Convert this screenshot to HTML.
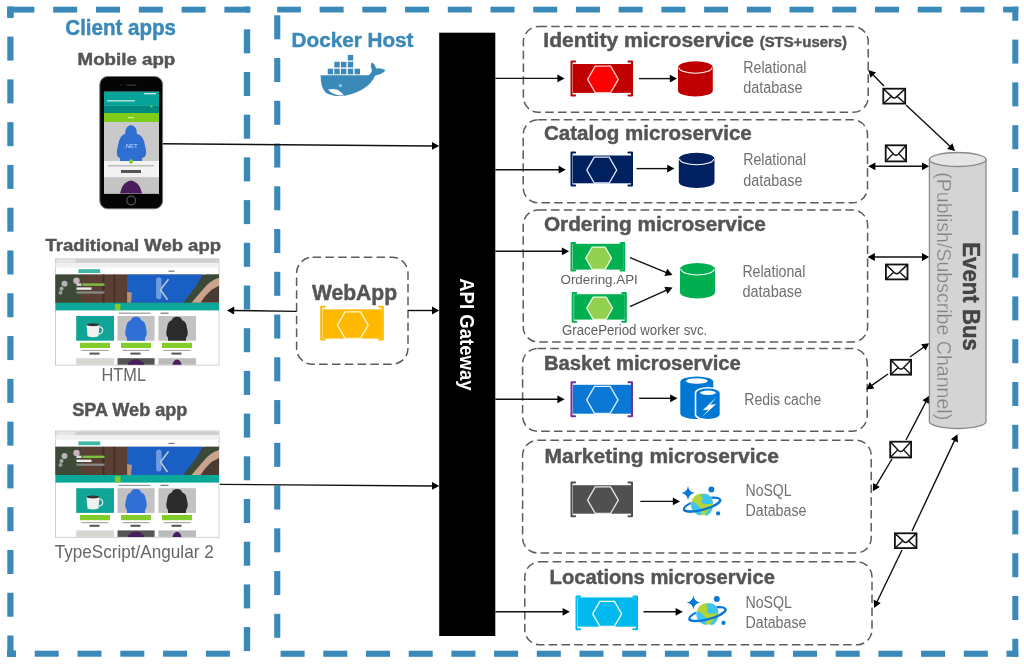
<!DOCTYPE html>
<html><head><meta charset="utf-8"><style>
html,body{margin:0;padding:0;background:#fff;}
svg{display:block;will-change:transform;font-family:"Liberation Sans",sans-serif;}
</style></head><body>
<svg width="1024" height="668" viewBox="0 0 1024 668">
<rect width="1024" height="668" fill="#fff"/>
<rect x="10.40" y="6.7" width="24.00" height="5.8999999999999995" fill="#3a89b9"/>
<rect x="53.20" y="6.7" width="24.00" height="5.8999999999999995" fill="#3a89b9"/>
<rect x="96.00" y="6.7" width="24.00" height="5.8999999999999995" fill="#3a89b9"/>
<rect x="138.80" y="6.7" width="24.00" height="5.8999999999999995" fill="#3a89b9"/>
<rect x="181.60" y="6.7" width="24.00" height="5.8999999999999995" fill="#3a89b9"/>
<rect x="224.40" y="6.7" width="24.00" height="5.8999999999999995" fill="#3a89b9"/>
<rect x="7.3" y="6.7" width="4" height="6" fill="#3a89b9"/>
<rect x="246" y="6.7" width="4.3" height="6" fill="#3a89b9"/>
<rect x="7.3" y="6.70" width="6.2" height="11.12" fill="#3a89b9"/>
<rect x="7.3" y="36.60" width="6.2" height="24.00" fill="#3a89b9"/>
<rect x="7.3" y="79.38" width="6.2" height="24.00" fill="#3a89b9"/>
<rect x="7.3" y="122.16" width="6.2" height="24.00" fill="#3a89b9"/>
<rect x="7.3" y="164.94" width="6.2" height="24.00" fill="#3a89b9"/>
<rect x="7.3" y="207.72" width="6.2" height="24.00" fill="#3a89b9"/>
<rect x="7.3" y="250.50" width="6.2" height="24.00" fill="#3a89b9"/>
<rect x="7.3" y="293.28" width="6.2" height="24.00" fill="#3a89b9"/>
<rect x="7.3" y="336.06" width="6.2" height="24.00" fill="#3a89b9"/>
<rect x="7.3" y="378.84" width="6.2" height="24.00" fill="#3a89b9"/>
<rect x="7.3" y="421.62" width="6.2" height="24.00" fill="#3a89b9"/>
<rect x="7.3" y="464.40" width="6.2" height="24.00" fill="#3a89b9"/>
<rect x="7.3" y="507.18" width="6.2" height="24.00" fill="#3a89b9"/>
<rect x="7.3" y="549.96" width="6.2" height="24.00" fill="#3a89b9"/>
<rect x="7.3" y="592.74" width="6.2" height="24.00" fill="#3a89b9"/>
<rect x="7.3" y="635.52" width="6.2" height="21.18" fill="#3a89b9"/>
<rect x="7.3" y="6.7" width="6.2" height="11" fill="#3a89b9"/>
<rect x="7.3" y="650" width="6.2" height="6.7" fill="#3a89b9"/>
<rect x="243.8" y="6.70" width="6.399999999999977" height="3.90" fill="#3a89b9"/>
<rect x="243.8" y="29.30" width="6.399999999999977" height="24.00" fill="#3a89b9"/>
<rect x="243.8" y="72.00" width="6.399999999999977" height="24.00" fill="#3a89b9"/>
<rect x="243.8" y="114.70" width="6.399999999999977" height="24.00" fill="#3a89b9"/>
<rect x="243.8" y="157.40" width="6.399999999999977" height="24.00" fill="#3a89b9"/>
<rect x="243.8" y="200.10" width="6.399999999999977" height="24.00" fill="#3a89b9"/>
<rect x="243.8" y="242.80" width="6.399999999999977" height="24.00" fill="#3a89b9"/>
<rect x="243.8" y="285.50" width="6.399999999999977" height="24.00" fill="#3a89b9"/>
<rect x="243.8" y="328.20" width="6.399999999999977" height="24.00" fill="#3a89b9"/>
<rect x="243.8" y="370.90" width="6.399999999999977" height="24.00" fill="#3a89b9"/>
<rect x="243.8" y="413.60" width="6.399999999999977" height="24.00" fill="#3a89b9"/>
<rect x="243.8" y="456.30" width="6.399999999999977" height="24.00" fill="#3a89b9"/>
<rect x="243.8" y="499.00" width="6.399999999999977" height="24.00" fill="#3a89b9"/>
<rect x="243.8" y="541.70" width="6.399999999999977" height="24.00" fill="#3a89b9"/>
<rect x="243.8" y="584.40" width="6.399999999999977" height="24.00" fill="#3a89b9"/>
<rect x="243.8" y="627.10" width="6.399999999999977" height="24.00" fill="#3a89b9"/>
<rect x="7.30" y="650.7" width="8.60" height="6.0" fill="#3a89b9"/>
<rect x="34.70" y="650.7" width="24.00" height="6.0" fill="#3a89b9"/>
<rect x="77.50" y="650.7" width="24.00" height="6.0" fill="#3a89b9"/>
<rect x="120.30" y="650.7" width="24.00" height="6.0" fill="#3a89b9"/>
<rect x="163.10" y="650.7" width="24.00" height="6.0" fill="#3a89b9"/>
<rect x="205.90" y="650.7" width="24.00" height="6.0" fill="#3a89b9"/>
<rect x="7.3" y="650.7" width="8.7" height="6" fill="#3a89b9"/>
<rect x="277.20" y="6.7" width="23.70" height="5.8" fill="#3a89b9"/>
<rect x="319.62" y="6.7" width="24.00" height="5.8" fill="#3a89b9"/>
<rect x="362.34" y="6.7" width="24.00" height="5.8" fill="#3a89b9"/>
<rect x="405.06" y="6.7" width="24.00" height="5.8" fill="#3a89b9"/>
<rect x="447.78" y="6.7" width="24.00" height="5.8" fill="#3a89b9"/>
<rect x="490.50" y="6.7" width="24.00" height="5.8" fill="#3a89b9"/>
<rect x="533.22" y="6.7" width="24.00" height="5.8" fill="#3a89b9"/>
<rect x="575.94" y="6.7" width="24.00" height="5.8" fill="#3a89b9"/>
<rect x="618.66" y="6.7" width="24.00" height="5.8" fill="#3a89b9"/>
<rect x="661.38" y="6.7" width="24.00" height="5.8" fill="#3a89b9"/>
<rect x="704.10" y="6.7" width="24.00" height="5.8" fill="#3a89b9"/>
<rect x="746.82" y="6.7" width="24.00" height="5.8" fill="#3a89b9"/>
<rect x="789.54" y="6.7" width="24.00" height="5.8" fill="#3a89b9"/>
<rect x="832.26" y="6.7" width="24.00" height="5.8" fill="#3a89b9"/>
<rect x="874.98" y="6.7" width="24.00" height="5.8" fill="#3a89b9"/>
<rect x="917.70" y="6.7" width="24.00" height="5.8" fill="#3a89b9"/>
<rect x="960.42" y="6.7" width="24.00" height="5.8" fill="#3a89b9"/>
<rect x="1003.14" y="6.7" width="15.16" height="5.8" fill="#3a89b9"/>
<rect x="274.2" y="15.30" width="6.100000000000023" height="24.00" fill="#3a89b9"/>
<rect x="274.2" y="58.05" width="6.100000000000023" height="24.00" fill="#3a89b9"/>
<rect x="274.2" y="100.80" width="6.100000000000023" height="24.00" fill="#3a89b9"/>
<rect x="274.2" y="143.55" width="6.100000000000023" height="24.00" fill="#3a89b9"/>
<rect x="274.2" y="186.30" width="6.100000000000023" height="24.00" fill="#3a89b9"/>
<rect x="274.2" y="229.05" width="6.100000000000023" height="24.00" fill="#3a89b9"/>
<rect x="274.2" y="271.80" width="6.100000000000023" height="24.00" fill="#3a89b9"/>
<rect x="274.2" y="314.55" width="6.100000000000023" height="24.00" fill="#3a89b9"/>
<rect x="274.2" y="357.30" width="6.100000000000023" height="24.00" fill="#3a89b9"/>
<rect x="274.2" y="400.05" width="6.100000000000023" height="24.00" fill="#3a89b9"/>
<rect x="274.2" y="442.80" width="6.100000000000023" height="24.00" fill="#3a89b9"/>
<rect x="274.2" y="485.55" width="6.100000000000023" height="24.00" fill="#3a89b9"/>
<rect x="274.2" y="528.30" width="6.100000000000023" height="24.00" fill="#3a89b9"/>
<rect x="274.2" y="571.05" width="6.100000000000023" height="24.00" fill="#3a89b9"/>
<rect x="274.2" y="613.80" width="6.100000000000023" height="24.00" fill="#3a89b9"/>
<rect x="1012.3" y="6.70" width="6.0" height="14.10" fill="#3a89b9"/>
<rect x="1012.3" y="39.60" width="6.0" height="24.00" fill="#3a89b9"/>
<rect x="1012.3" y="82.40" width="6.0" height="24.00" fill="#3a89b9"/>
<rect x="1012.3" y="125.20" width="6.0" height="24.00" fill="#3a89b9"/>
<rect x="1012.3" y="168.00" width="6.0" height="24.00" fill="#3a89b9"/>
<rect x="1012.3" y="210.80" width="6.0" height="24.00" fill="#3a89b9"/>
<rect x="1012.3" y="253.60" width="6.0" height="24.00" fill="#3a89b9"/>
<rect x="1012.3" y="296.40" width="6.0" height="24.00" fill="#3a89b9"/>
<rect x="1012.3" y="339.20" width="6.0" height="24.00" fill="#3a89b9"/>
<rect x="1012.3" y="382.00" width="6.0" height="24.00" fill="#3a89b9"/>
<rect x="1012.3" y="424.80" width="6.0" height="24.00" fill="#3a89b9"/>
<rect x="1012.3" y="467.60" width="6.0" height="24.00" fill="#3a89b9"/>
<rect x="1012.3" y="510.40" width="6.0" height="24.00" fill="#3a89b9"/>
<rect x="1012.3" y="553.20" width="6.0" height="24.00" fill="#3a89b9"/>
<rect x="1012.3" y="596.00" width="6.0" height="24.00" fill="#3a89b9"/>
<rect x="1012.3" y="638.80" width="6.0" height="18.00" fill="#3a89b9"/>
<rect x="280.60" y="650.7" width="24.00" height="6.099999999999909" fill="#3a89b9"/>
<rect x="323.30" y="650.7" width="24.00" height="6.099999999999909" fill="#3a89b9"/>
<rect x="366.00" y="650.7" width="24.00" height="6.099999999999909" fill="#3a89b9"/>
<rect x="408.70" y="650.7" width="24.00" height="6.099999999999909" fill="#3a89b9"/>
<rect x="451.40" y="650.7" width="24.00" height="6.099999999999909" fill="#3a89b9"/>
<rect x="494.10" y="650.7" width="24.00" height="6.099999999999909" fill="#3a89b9"/>
<rect x="536.80" y="650.7" width="24.00" height="6.099999999999909" fill="#3a89b9"/>
<rect x="579.50" y="650.7" width="24.00" height="6.099999999999909" fill="#3a89b9"/>
<rect x="622.20" y="650.7" width="24.00" height="6.099999999999909" fill="#3a89b9"/>
<rect x="664.90" y="650.7" width="24.00" height="6.099999999999909" fill="#3a89b9"/>
<rect x="707.60" y="650.7" width="24.00" height="6.099999999999909" fill="#3a89b9"/>
<rect x="750.30" y="650.7" width="24.00" height="6.099999999999909" fill="#3a89b9"/>
<rect x="793.00" y="650.7" width="24.00" height="6.099999999999909" fill="#3a89b9"/>
<rect x="835.70" y="650.7" width="24.00" height="6.099999999999909" fill="#3a89b9"/>
<rect x="878.40" y="650.7" width="24.00" height="6.099999999999909" fill="#3a89b9"/>
<rect x="921.10" y="650.7" width="24.00" height="6.099999999999909" fill="#3a89b9"/>
<rect x="963.80" y="650.7" width="24.00" height="6.099999999999909" fill="#3a89b9"/>
<rect x="1006.50" y="650.7" width="11.80" height="6.099999999999909" fill="#3a89b9"/>
<rect x="523.4" y="26.6" width="344.80000000000007" height="85.69999999999999" rx="15" ry="15" fill="none" stroke="#5c5c5c" stroke-width="1.5" stroke-dasharray="8.5 4.3"/>
<rect x="523.2" y="119.7" width="344.29999999999995" height="83.10000000000001" rx="15" ry="15" fill="none" stroke="#5c5c5c" stroke-width="1.5" stroke-dasharray="8.5 4.3"/>
<rect x="523.2" y="210.0" width="344.4" height="132.0" rx="15" ry="15" fill="none" stroke="#5c5c5c" stroke-width="1.5" stroke-dasharray="8.5 4.3"/>
<rect x="522.6" y="348.4" width="344.6" height="82.90000000000003" rx="15" ry="15" fill="none" stroke="#5c5c5c" stroke-width="1.5" stroke-dasharray="8.5 4.3"/>
<rect x="522.6" y="440.3" width="348.6" height="112.69999999999999" rx="15" ry="15" fill="none" stroke="#5c5c5c" stroke-width="1.5" stroke-dasharray="8.5 4.3"/>
<rect x="524.8" y="561.8" width="347.20000000000005" height="83.0" rx="15" ry="15" fill="none" stroke="#5c5c5c" stroke-width="1.5" stroke-dasharray="8.5 4.3"/>
<rect x="296.6" y="257.2" width="111.39999999999998" height="107.10000000000002" rx="16" ry="16" fill="none" stroke="#5c5c5c" stroke-width="1.5" stroke-dasharray="8.5 4.3"/>
<rect x="439.2" y="32.7" width="56.1" height="603.3" fill="#000"/>
<line x1="162.60" y1="143.80" x2="432.72" y2="145.95" stroke="#111" stroke-width="1.4"/>
<polygon points="439.20,146.00 431.97,149.84 432.03,142.04" fill="#000"/>
<line x1="296.60" y1="311.40" x2="233.48" y2="310.49" stroke="#111" stroke-width="1.4"/>
<polygon points="227.00,310.40 234.26,306.60 234.14,314.40" fill="#000"/>
<line x1="408.00" y1="310.50" x2="432.72" y2="310.50" stroke="#111" stroke-width="1.4"/>
<polygon points="439.20,310.50 432.00,314.40 432.00,306.60" fill="#000"/>
<line x1="219.80" y1="484.40" x2="432.72" y2="485.95" stroke="#111" stroke-width="1.4"/>
<polygon points="439.20,486.00 431.97,489.85 432.03,482.05" fill="#000"/>
<line x1="495.30" y1="78.40" x2="558.12" y2="78.40" stroke="#111" stroke-width="1.4"/>
<polygon points="564.60,78.40 557.40,82.30 557.40,74.50" fill="#000"/>
<line x1="495.30" y1="169.70" x2="559.32" y2="169.70" stroke="#111" stroke-width="1.4"/>
<polygon points="565.80,169.70 558.60,173.60 558.60,165.80" fill="#000"/>
<line x1="495.30" y1="251.30" x2="562.62" y2="251.30" stroke="#111" stroke-width="1.4"/>
<polygon points="569.10,251.30 561.90,255.20 561.90,247.40" fill="#000"/>
<line x1="495.30" y1="399.30" x2="558.12" y2="399.30" stroke="#111" stroke-width="1.4"/>
<polygon points="564.60,399.30 557.40,403.20 557.40,395.40" fill="#000"/>
<line x1="495.30" y1="611.80" x2="563.32" y2="611.80" stroke="#111" stroke-width="1.4"/>
<polygon points="569.80,611.80 562.60,615.70 562.60,607.90" fill="#000"/>
<line x1="639.00" y1="78.60" x2="670.52" y2="78.60" stroke="#111" stroke-width="1.4"/>
<polygon points="677.00,78.60 669.80,82.50 669.80,74.70" fill="#000"/>
<line x1="636.50" y1="168.60" x2="667.92" y2="168.60" stroke="#111" stroke-width="1.4"/>
<polygon points="674.40,168.60 667.20,172.50 667.20,164.70" fill="#000"/>
<line x1="630.00" y1="257.70" x2="666.50" y2="272.64" stroke="#111" stroke-width="1.4"/>
<polygon points="672.50,275.10 664.36,275.98 667.31,268.76" fill="#000"/>
<line x1="629.90" y1="306.70" x2="666.60" y2="290.07" stroke="#111" stroke-width="1.4"/>
<polygon points="672.50,287.40 667.55,293.92 664.33,286.82" fill="#000"/>
<line x1="639.10" y1="398.30" x2="670.92" y2="398.30" stroke="#111" stroke-width="1.4"/>
<polygon points="677.40,398.30 670.20,402.20 670.20,394.40" fill="#000"/>
<line x1="640.30" y1="501.40" x2="673.52" y2="501.40" stroke="#111" stroke-width="1.4"/>
<polygon points="680.00,501.40 672.80,505.30 672.80,497.50" fill="#000"/>
<line x1="643.50" y1="611.80" x2="676.32" y2="611.80" stroke="#111" stroke-width="1.4"/>
<polygon points="682.80,611.80 675.60,615.70 675.60,607.90" fill="#000"/>
<line x1="884.00" y1="86.00" x2="872.75" y2="74.61" stroke="#111" stroke-width="1.4"/>
<polygon points="868.20,70.00 876.03,72.38 870.48,77.86" fill="#000"/>
<line x1="906.00" y1="105.00" x2="950.28" y2="146.56" stroke="#111" stroke-width="1.4"/>
<polygon points="955.00,151.00 947.08,148.92 952.42,143.23" fill="#000"/>
<line x1="874.68" y1="166.30" x2="922.72" y2="166.30" stroke="#111" stroke-width="1.4"/>
<polygon points="929.20,166.30 922.00,170.20 922.00,162.40" fill="#000"/>
<polygon points="868.20,166.30 875.40,170.20 875.40,162.40" fill="#000"/>
<line x1="874.08" y1="257.00" x2="922.72" y2="257.00" stroke="#111" stroke-width="1.4"/>
<polygon points="929.20,257.00 922.00,260.90 922.00,253.10" fill="#000"/>
<polygon points="867.60,257.00 874.80,260.90 874.80,253.10" fill="#000"/>
<line x1="910.00" y1="357.00" x2="923.94" y2="346.98" stroke="#111" stroke-width="1.4"/>
<polygon points="929.20,343.20 925.63,350.57 921.08,344.24" fill="#000"/>
<line x1="888.00" y1="374.00" x2="871.49" y2="385.66" stroke="#111" stroke-width="1.4"/>
<polygon points="866.20,389.40 869.83,382.06 874.33,388.43" fill="#000"/>
<line x1="906.00" y1="440.00" x2="926.19" y2="401.44" stroke="#111" stroke-width="1.4"/>
<polygon points="929.20,395.70 929.31,403.89 922.40,400.27" fill="#000"/>
<line x1="892.00" y1="459.00" x2="876.12" y2="485.63" stroke="#111" stroke-width="1.4"/>
<polygon points="872.80,491.20 873.14,483.02 879.84,487.01" fill="#000"/>
<line x1="912.00" y1="531.00" x2="954.74" y2="440.16" stroke="#111" stroke-width="1.4"/>
<polygon points="957.50,434.30 957.96,442.48 950.91,439.15" fill="#000"/>
<line x1="902.00" y1="550.00" x2="876.91" y2="602.06" stroke="#111" stroke-width="1.4"/>
<polygon points="874.10,607.90 873.71,599.72 880.74,603.11" fill="#000"/>
<rect x="883.30" y="88.70" width="21.90" height="14.90" fill="#fff" stroke="#111" stroke-width="1.8"/>
<path d="M883.90,89.30 L892.25,97.12 Q894.25,98.92 896.25,97.12 L904.60,89.30" fill="none" stroke="#111" stroke-width="1.5"/>
<line x1="883.90" y1="103.00" x2="890.93" y2="96.65" stroke="#111" stroke-width="1.4"/>
<line x1="904.60" y1="103.00" x2="897.57" y2="96.65" stroke="#111" stroke-width="1.4"/>
<rect x="885.70" y="145.30" width="20.40" height="16.10" fill="#fff" stroke="#111" stroke-width="1.8"/>
<path d="M886.30,145.90 L893.90,154.48 Q895.90,156.28 897.90,154.48 L905.50,145.90" fill="none" stroke="#111" stroke-width="1.5"/>
<line x1="886.30" y1="160.80" x2="892.79" y2="153.89" stroke="#111" stroke-width="1.4"/>
<line x1="905.50" y1="160.80" x2="899.01" y2="153.89" stroke="#111" stroke-width="1.4"/>
<rect x="885.90" y="264.50" width="21.60" height="14.90" fill="#fff" stroke="#111" stroke-width="1.8"/>
<path d="M886.50,265.10 L894.70,272.92 Q896.70,274.72 898.70,272.92 L906.90,265.10" fill="none" stroke="#111" stroke-width="1.5"/>
<line x1="886.50" y1="278.80" x2="893.42" y2="272.45" stroke="#111" stroke-width="1.4"/>
<line x1="906.90" y1="278.80" x2="899.98" y2="272.45" stroke="#111" stroke-width="1.4"/>
<rect x="890.80" y="359.80" width="20.30" height="14.90" fill="#fff" stroke="#111" stroke-width="1.8"/>
<path d="M891.40,360.40 L898.95,368.22 Q900.95,370.02 902.95,368.22 L910.50,360.40" fill="none" stroke="#111" stroke-width="1.5"/>
<line x1="891.40" y1="374.10" x2="897.86" y2="367.75" stroke="#111" stroke-width="1.4"/>
<line x1="910.50" y1="374.10" x2="904.04" y2="367.75" stroke="#111" stroke-width="1.4"/>
<rect x="890.20" y="441.70" width="20.90" height="15.80" fill="#fff" stroke="#111" stroke-width="1.8"/>
<path d="M890.80,442.30 L898.65,450.69 Q900.65,452.49 902.65,450.69 L910.50,442.30" fill="none" stroke="#111" stroke-width="1.5"/>
<line x1="890.80" y1="456.90" x2="897.47" y2="450.13" stroke="#111" stroke-width="1.4"/>
<line x1="910.50" y1="456.90" x2="903.83" y2="450.13" stroke="#111" stroke-width="1.4"/>
<rect x="894.90" y="533.30" width="21.60" height="14.80" fill="#fff" stroke="#111" stroke-width="1.8"/>
<path d="M895.50,533.90 L903.70,541.66 Q905.70,543.46 907.70,541.66 L915.90,533.90" fill="none" stroke="#111" stroke-width="1.5"/>
<line x1="895.50" y1="547.50" x2="902.42" y2="541.20" stroke="#111" stroke-width="1.4"/>
<line x1="915.90" y1="547.50" x2="908.98" y2="541.20" stroke="#111" stroke-width="1.4"/>
<path d="M929.4,159.5 L929.4,421.5 A28.3,7 0 0 0 986,421.5 L986,159.5 Z" fill="#d4d4d4" stroke="#8a8a8a" stroke-width="1.3"/>
<ellipse cx="957.7" cy="159.5" rx="28.3" ry="7" fill="#e6e6e6" stroke="#8a8a8a" stroke-width="1.3"/>
<rect x="572.90" y="64.00" width="58.10" height="28.90" fill="#c00000"/>
<path d="M575.10,61.50 H571.50 V95.40 H575.10" fill="none" stroke="#c00000" stroke-width="2" stroke-linejoin="round" stroke-linecap="round"/>
<path d="M628.40,61.50 H632.00 V95.40 H628.40" fill="none" stroke="#c00000" stroke-width="2" stroke-linejoin="round" stroke-linecap="round"/>
<polygon points="587.58,79.35 595.27,66.10 610.63,66.10 618.32,79.35 610.63,92.60 595.27,92.60" fill="#ff0000" stroke="#ffc8c8" stroke-width="1.3" stroke-linejoin="round"/>
<rect x="572.90" y="155.50" width="58.10" height="27.80" fill="#002060"/>
<path d="M575.10,152.60 H571.50 V185.40 H575.10" fill="none" stroke="#002060" stroke-width="2" stroke-linejoin="round" stroke-linecap="round"/>
<path d="M628.40,152.60 H632.00 V185.40 H628.40" fill="none" stroke="#002060" stroke-width="2" stroke-linejoin="round" stroke-linecap="round"/>
<polygon points="586.79,170.10 594.27,157.20 609.23,157.20 616.71,170.10 609.23,183.00 594.27,183.00" fill="#002060" stroke="#e0e6f8" stroke-width="1.3" stroke-linejoin="round"/>
<rect x="572.90" y="243.80" width="50.30" height="25.80" fill="#00b050"/>
<path d="M575.10,242.90 H571.50 V270.50 H575.10" fill="none" stroke="#00b050" stroke-width="2" stroke-linejoin="round" stroke-linecap="round"/>
<path d="M620.60,242.90 H624.20 V270.50 H620.60" fill="none" stroke="#00b050" stroke-width="2" stroke-linejoin="round" stroke-linecap="round"/>
<polygon points="585.77,258.20 592.21,247.10 605.09,247.10 611.53,258.20 605.09,269.30 592.21,269.30" fill="#92d050" stroke="#e8ffd8" stroke-width="1.3" stroke-linejoin="round"/>
<rect x="574.10" y="294.20" width="50.70" height="25.40" fill="#00b050"/>
<path d="M576.30,292.90 H572.70 V321.70 H576.30" fill="none" stroke="#00b050" stroke-width="2" stroke-linejoin="round" stroke-linecap="round"/>
<path d="M622.20,292.90 H625.80 V321.70 H622.20" fill="none" stroke="#00b050" stroke-width="2" stroke-linejoin="round" stroke-linecap="round"/>
<polygon points="586.77,308.20 593.21,297.10 606.09,297.10 612.53,308.20 606.09,319.30 593.21,319.30" fill="#92d050" stroke="#e8ffd8" stroke-width="1.3" stroke-linejoin="round"/>
<rect x="572.90" y="384.80" width="58.10" height="28.90" fill="#0a78d4"/>
<path d="M575.10,382.30 H571.50 V416.20 H575.10" fill="none" stroke="#7030a0" stroke-width="2" stroke-linejoin="round" stroke-linecap="round"/>
<path d="M628.40,382.30 H632.00 V416.20 H628.40" fill="none" stroke="#7030a0" stroke-width="2" stroke-linejoin="round" stroke-linecap="round"/>
<polygon points="586.69,399.90 594.52,386.40 610.18,386.40 618.01,399.90 610.18,413.40 594.52,413.40" fill="#0a78d4" stroke="#e0f0ff" stroke-width="1.3" stroke-linejoin="round"/>
<rect x="572.90" y="485.20" width="58.10" height="28.50" fill="#505050"/>
<path d="M575.10,482.60 H571.50 V516.20 H575.10" fill="none" stroke="#505050" stroke-width="2" stroke-linejoin="round" stroke-linecap="round"/>
<path d="M628.40,482.60 H632.00 V516.20 H628.40" fill="none" stroke="#505050" stroke-width="2" stroke-linejoin="round" stroke-linecap="round"/>
<polygon points="587.58,500.15 595.27,486.90 610.63,486.90 618.32,500.15 610.63,513.40 595.27,513.40" fill="#505050" stroke="#e8e8e8" stroke-width="1.3" stroke-linejoin="round"/>
<rect x="577.90" y="597.40" width="58.10" height="29.30" fill="#00b9ef"/>
<path d="M580.10,596.40 H576.50 V629.20 H580.10" fill="none" stroke="#00b9ef" stroke-width="2" stroke-linejoin="round" stroke-linecap="round"/>
<path d="M633.40,596.40 H637.00 V629.20 H633.40" fill="none" stroke="#00b9ef" stroke-width="2" stroke-linejoin="round" stroke-linecap="round"/>
<polygon points="592.65,613.90 599.90,601.40 614.40,601.40 621.65,613.90 614.40,626.40 599.90,626.40" fill="#00b9ef" stroke="#f0fbff" stroke-width="1.3" stroke-linejoin="round"/>
<rect x="322.60" y="309.30" width="59.20" height="29.30" fill="#ffb900"/>
<path d="M324.80,306.80 H321.20 V339.60 H324.80" fill="none" stroke="#ffb900" stroke-width="2" stroke-linejoin="round" stroke-linecap="round"/>
<path d="M379.20,306.80 H382.80 V339.60 H379.20" fill="none" stroke="#ffb900" stroke-width="2" stroke-linejoin="round" stroke-linecap="round"/>
<polygon points="337.43,325.05 345.12,311.80 360.49,311.80 368.17,325.05 360.49,338.30 345.12,338.30" fill="#ffb900" stroke="#fff6d0" stroke-width="1.3" stroke-linejoin="round"/>
<path d="M678.0,67.4 L678.0,90.39999999999999 A17.399999999999977,6.2 0 0 0 712.8,90.39999999999999 L712.8,67.4 A17.399999999999977,6.2 0 0 0 678.0,67.4 Z" fill="#c00000"/>
<path d="M678.8,67.4 A16.599999999999977,5.9 0 0 0 712.0,67.4" fill="none" stroke="#fff" stroke-width="1.1"/>
<path d="M678.8,158.89999999999998 L678.8,181.8 A17.850000000000023,6.2 0 0 0 714.5,181.8 L714.5,158.89999999999998 A17.850000000000023,6.2 0 0 0 678.8,158.89999999999998 Z" fill="#002060"/>
<path d="M679.5999999999999,158.89999999999998 A17.050000000000022,5.9 0 0 0 713.7,158.89999999999998" fill="none" stroke="#fff" stroke-width="1.1"/>
<path d="M680.0,269.09999999999997 L680.0,292.3 A17.5,6.2 0 0 0 715.0,292.3 L715.0,269.09999999999997 A17.5,6.2 0 0 0 680.0,269.09999999999997 Z" fill="#00b050"/>
<path d="M680.8,269.09999999999997 A16.7,5.9 0 0 0 714.2,269.09999999999997" fill="none" stroke="#fff" stroke-width="1.1"/>
<g>
<path d="M680.3,382 L680.3,413.5 A16.5,5.6 0 0 0 713.3,413.5 L713.3,382 A16.5,5.6 0 0 0 680.3,382 Z" fill="#0078d4"/>
<ellipse cx="696.8" cy="381" rx="11" ry="2.8" fill="#fff"/>
<path d="M695.5,393 L695.5,414.5 A12.5,5.2 0 0 0 720.5,414.5 L720.5,393 A12.5,5.2 0 0 0 695.5,393 Z" fill="#0078d4" stroke="#fff" stroke-width="1.6"/>
<ellipse cx="708" cy="392.8" rx="8" ry="2.2" fill="#fff"/>
<polygon points="716.5,397 702.8,410.2 708.6,409.6 702.3,416.8 716,404.3 710.2,404.8" fill="#fff"/>
</g>
<g transform="translate(683.0,486.4)">
<path d="M5,-0.3 Q5.9,5.8 11.8,6.7 Q5.9,7.6 5,13.7 Q4.1,7.6 -1.8,6.7 Q4.1,5.8 5,-0.3 Z" fill="#0a78d7"/>
<circle cx="28.4" cy="3.1" r="3" fill="#0a78d7"/>
<circle cx="35.1" cy="27" r="2.1" fill="#0a78d7"/>
<ellipse cx="19" cy="18.1" rx="18.6" ry="5.2" transform="rotate(-15 19 18.1)" fill="none" stroke="#0a78d7" stroke-width="2.2"/>
<circle cx="19" cy="18" r="11.2" fill="#b4d334" stroke="#fff" stroke-width="0.6"/>
<path d="M17.8,8.4 Q20,7.2 24,7.6 Q28.5,9.5 30,15.5 L30,17 Q26,17.5 22,17.8 Q18.8,17.5 18.6,15 Q18.6,12.5 20,11.8 Q17.8,10.6 17.8,8.4 Z" fill="#3ec4f0"/>
<path d="M7.9,16.5 Q10.5,15 13.4,17 Q15,20.5 17.8,21.8 Q18.6,25 17.5,29 Q9.5,27.3 7.9,18.8 Z" fill="#3ec4f0"/>
<path d="M21.5,28.6 Q25,23.5 29.8,19.8 Q29.5,26.5 23.5,29.3 Z" fill="#3ec4f0"/>
<path d="M0.6,23 A18.6,5.2 -15 0 0 37.4,13.2" fill="none" stroke="#0a78d7" stroke-width="2.2"/>
</g>
<g transform="translate(688.4,595.9)">
<path d="M5,-0.3 Q5.9,5.8 11.8,6.7 Q5.9,7.6 5,13.7 Q4.1,7.6 -1.8,6.7 Q4.1,5.8 5,-0.3 Z" fill="#0a78d7"/>
<circle cx="28.4" cy="3.1" r="3" fill="#0a78d7"/>
<circle cx="35.1" cy="27" r="2.1" fill="#0a78d7"/>
<ellipse cx="19" cy="18.1" rx="18.6" ry="5.2" transform="rotate(-15 19 18.1)" fill="none" stroke="#0a78d7" stroke-width="2.2"/>
<circle cx="19" cy="18" r="11.2" fill="#b4d334" stroke="#fff" stroke-width="0.6"/>
<path d="M17.8,8.4 Q20,7.2 24,7.6 Q28.5,9.5 30,15.5 L30,17 Q26,17.5 22,17.8 Q18.8,17.5 18.6,15 Q18.6,12.5 20,11.8 Q17.8,10.6 17.8,8.4 Z" fill="#3ec4f0"/>
<path d="M7.9,16.5 Q10.5,15 13.4,17 Q15,20.5 17.8,21.8 Q18.6,25 17.5,29 Q9.5,27.3 7.9,18.8 Z" fill="#3ec4f0"/>
<path d="M21.5,28.6 Q25,23.5 29.8,19.8 Q29.5,26.5 23.5,29.3 Z" fill="#3ec4f0"/>
<path d="M0.6,23 A18.6,5.2 -15 0 0 37.4,13.2" fill="none" stroke="#0a78d7" stroke-width="2.2"/>
</g>
<g fill="#3a89b9">
<rect x="327.7" y="68.7" width="5.4" height="5.6"/>
<rect x="334.3" y="68.7" width="5.4" height="5.6"/>
<rect x="341.0" y="68.7" width="5.4" height="5.6"/>
<rect x="347.8" y="68.7" width="5.4" height="5.6"/>
<rect x="354.6" y="68.7" width="5.4" height="5.6"/>
<rect x="334.3" y="61.8" width="5.4" height="5.6"/>
<rect x="341.0" y="61.8" width="5.4" height="5.6"/>
<rect x="347.8" y="61.8" width="5.4" height="5.6"/>
<rect x="347.8" y="54.9" width="5.4" height="5.6"/>
<path d="M320.6,75.2 L368.5,75.2 Q372,72.8 372,70 Q370,66 371.5,62.5 Q375,63.5 376,68.5 Q381,67.6 385.6,70.3 Q382,74.8 375.2,75.5 Q369,90.5 345,95.8 Q333,97 326,93 Q320.4,87 320.6,75.2 Z"/>
</g>
<path d="M328,89.5 Q333,88.3 338,90 Q342,92.5 344,95.6 Q333,96 328,89.5 Z" fill="#fff"/>
<circle cx="340.4" cy="85.6" r="1.6" fill="#9cc6df"/>

<g>
<rect x="99.8" y="76.5" width="62.8" height="132.3" rx="8" fill="#050505" stroke="#777" stroke-width="1"/>
<rect x="104" y="91.7" width="55" height="102" fill="#ccc"/>
<rect x="104" y="91.7" width="55" height="14.1" fill="#06a398"/><rect x="107" y="100" width="28" height="1.6" fill="#9edcd6"/><rect x="144" y="93" width="12" height="1.4" fill="#bfe8e4"/>
<rect x="104" y="105.8" width="55" height="7.2" fill="#028a80"/><circle cx="151.5" cy="106.5" r="1" fill="#8cd22a"/>
<rect x="104" y="113" width="55" height="9" fill="#80cc1c"/><rect x="128" y="117" width="6" height="1.2" fill="#c8ec9a"/>
<rect x="104" y="122" width="55" height="39" fill="#c9c9c9"/>
<path d="M120,161 L120,158 Q116,157 117,150 L119,141 Q121,135 125,134 Q125,126 131,125 Q137,126 137,134 Q142,135 144,141 L146,150 Q147,157 142,158 L142,161 Z" fill="#2e6fd1"/><text x="124" y="148" font-size="6" fill="#9cc0f0" font-weight="bold">.NET</text>
<rect x="104" y="161" width="55" height="16.3" fill="#f2f2f2"/>
<rect x="121" y="170" width="20" height="3" fill="#555"/>
<rect x="108" y="165" width="46" height="1.5" fill="#bbb"/>
<circle cx="131" cy="161.5" r="2.2" fill="#8dc63f"/>
<rect x="104" y="177.3" width="55" height="16.3" fill="#c4c4c4"/>
<path d="M120,193.6 Q122,184 127,182 Q131,179 135,182 Q140,184 142,193.6 Z" fill="#4a1d5c"/>
<circle cx="131.2" cy="200.5" r="4.4" fill="none" stroke="#555" stroke-width="1.2"/>
<rect x="126" y="84.3" width="10.5" height="1.8" rx="0.9" fill="#2a2a2a"/><circle cx="121.3" cy="85.2" r="0.9" fill="#2a2a2a"/>
</g>


<g transform="translate(55.5,258.8)">
<rect x="0" y="0" width="163.5" height="106.3" fill="#fff" stroke="#c4c4c4" stroke-width="0.8"/>
<rect x="0" y="0.3" width="163.5" height="3.8" fill="#cfcfcf"/>
<rect x="1" y="0.5" width="19" height="3.4" fill="#e6e6e6"/>
<rect x="0" y="4.1" width="163.5" height="4.6" fill="#f0f0f0"/>
<rect x="22.9" y="10.4" width="21.8" height="3.8" fill="#3eb6a8"/>
<rect x="113" y="11.8" width="6" height="1.2" fill="#777"/>
<rect x="0" y="15.8" width="163.5" height="28.2" fill="#4a3a31"/>
<rect x="0" y="15.8" width="26" height="28.2" fill="#3c4a37"/>
<circle cx="21" cy="22" r="3.2" fill="#c8b4bc"/>
<circle cx="9" cy="25" r="3" fill="#b8b0b8"/>
<circle cx="6" cy="30" r="2" fill="#aaa"/>
<circle cx="5" cy="34" r="2" fill="#999"/>
<rect x="26" y="15.8" width="46" height="28.2" fill="#5a3f35"/>
<rect x="47" y="15.8" width="2" height="28.2" fill="#3e2e28"/>
<rect x="58" y="15.8" width="1.5" height="28.2" fill="#3e2e28"/>
<rect x="21" y="24.6" width="5" height="2.4" fill="#ddd"/>
<rect x="27" y="24.6" width="22" height="2.4" fill="#7ac043"/>
<rect x="21" y="28.6" width="15" height="2.4" fill="#eee"/>
<rect x="21" y="32.6" width="28" height="2.2" fill="#8a8a8a"/>
<path d="M71.6,15.8 L147.5,15.8 L141,27 L128,44 L75,44 L71.6,35 Z" fill="#1a5fc4"/>
<path d="M71.6,33 L76.5,34 L75.5,44 L71.6,44 Z" fill="#b8917a"/>
<path d="M128,44 L136,44 L150,27 L163.5,21 L163.5,15.8 L150,15.8 L141,27 Z" fill="#3a4a38"/>
<path d="M136,44 L145,44 Q150,36 156,31 L163.5,27 L163.5,19 Q154,22 148,30 Z" fill="#c9a38c"/>
<rect x="100.6" y="18.5" width="5.4" height="22" rx="2.7" fill="#6f9ae0"/>
<path d="M105,31 L113,20.5 M105,31 L112,41" stroke="#b9c6d6" stroke-width="1.6"/>
<rect x="0" y="44" width="163.5" height="7.6" fill="#0ba89a"/>
<rect x="59.4" y="45.2" width="5.5" height="6" fill="#84cc22"/>
<rect x="63" y="53.8" width="32" height="1.2" fill="#999"/>
<rect x="105" y="53.8" width="8" height="1.2" fill="#777"/>
<rect x="20.7" y="57.2" width="37.8" height="24.7" fill="#10a596"/>
<path d="M31,66 L44,66 L43,77.5 Q37.5,79.5 32,77.5 Z" fill="#f2f2f2"/>
<ellipse cx="37.5" cy="66" rx="6.5" ry="1.5" fill="#333"/>
<path d="M44,68 Q48,68.5 47,73 Q45.5,75.5 43,75" fill="none" stroke="#eee" stroke-width="1.2"/>
<rect x="62" y="57.2" width="37.1" height="24.7" fill="#c2c2c2"/>
<path transform="translate(80.5,0) scale(0.78,1) translate(-80.5,0)" d="M69,81.9 L69,79 Q66,77 67,72 L68.5,66 Q70,62 74,61.5 Q74.5,58.3 80.5,58 Q86.5,58.3 87,61.5 Q91,62 92.5,66 L94,72 Q95,77 92,79 L92,81.9 Z" fill="#2f6fd6"/>
<rect x="102.9" y="57.2" width="37.6" height="24.7" fill="#c2c2c2"/>
<path transform="translate(121.5,0) scale(0.78,1) translate(-121.5,0)" d="M110,81.9 L110,79 Q107,77 108,72 L109.5,66 Q111,62 115,61.5 Q115.5,58.3 121.5,58 Q127.5,58.3 128,61.5 Q132,62 133.5,66 L135,72 Q136,77 133,79 L133,81.9 Z" fill="#2b2b2b"/>
<rect x="24.5" y="84" width="30" height="5.2" fill="#82cc2c"/>
<rect x="65.5" y="84" width="30" height="5.2" fill="#82cc2c"/>
<rect x="106.5" y="84" width="30" height="5.2" fill="#82cc2c"/>
<rect x="26" y="91" width="27" height="1.2" fill="#aaa"/>
<rect x="67" y="91" width="27" height="1.2" fill="#aaa"/>
<rect x="108" y="91" width="27" height="1.2" fill="#aaa"/>
<rect x="34" y="93.8" width="10" height="2" fill="#555"/>
<rect x="75" y="93.8" width="10" height="2" fill="#555"/>
<rect x="116" y="93.8" width="10" height="2" fill="#555"/>
<rect x="20.7" y="99.4" width="37.8" height="6.5" fill="#d8d6d0"/>
<rect x="62" y="99.4" width="37.1" height="6.5" fill="#555"/>
<path d="M72,106 Q74,101 80.5,100.5 Q87,101 89,106 Z" fill="#4a1d5c"/>
<rect x="102.9" y="99.4" width="37.6" height="6.5" fill="#bbb"/>
<path d="M117,106 Q118,101 121.5,100.8 Q125,101 126,106 Z" fill="#4a1d5c"/>
</g>


<g transform="translate(55.5,431.0)">
<rect x="0" y="0" width="163.5" height="106.3" fill="#fff" stroke="#c4c4c4" stroke-width="0.8"/>
<rect x="0" y="0.3" width="163.5" height="3.8" fill="#cfcfcf"/>
<rect x="1" y="0.5" width="19" height="3.4" fill="#e6e6e6"/>
<rect x="0" y="4.1" width="163.5" height="4.6" fill="#f0f0f0"/>
<rect x="22.9" y="10.4" width="21.8" height="3.8" fill="#3eb6a8"/>
<rect x="113" y="11.8" width="6" height="1.2" fill="#777"/>
<rect x="0" y="15.8" width="163.5" height="28.2" fill="#4a3a31"/>
<rect x="0" y="15.8" width="26" height="28.2" fill="#3c4a37"/>
<circle cx="21" cy="22" r="3.2" fill="#c8b4bc"/>
<circle cx="9" cy="25" r="3" fill="#b8b0b8"/>
<circle cx="6" cy="30" r="2" fill="#aaa"/>
<circle cx="5" cy="34" r="2" fill="#999"/>
<rect x="26" y="15.8" width="46" height="28.2" fill="#5a3f35"/>
<rect x="47" y="15.8" width="2" height="28.2" fill="#3e2e28"/>
<rect x="58" y="15.8" width="1.5" height="28.2" fill="#3e2e28"/>
<rect x="21" y="24.6" width="5" height="2.4" fill="#ddd"/>
<rect x="27" y="24.6" width="22" height="2.4" fill="#7ac043"/>
<rect x="21" y="28.6" width="15" height="2.4" fill="#eee"/>
<rect x="21" y="32.6" width="28" height="2.2" fill="#8a8a8a"/>
<path d="M71.6,15.8 L147.5,15.8 L141,27 L128,44 L75,44 L71.6,35 Z" fill="#1a5fc4"/>
<path d="M71.6,33 L76.5,34 L75.5,44 L71.6,44 Z" fill="#b8917a"/>
<path d="M128,44 L136,44 L150,27 L163.5,21 L163.5,15.8 L150,15.8 L141,27 Z" fill="#3a4a38"/>
<path d="M136,44 L145,44 Q150,36 156,31 L163.5,27 L163.5,19 Q154,22 148,30 Z" fill="#c9a38c"/>
<rect x="100.6" y="18.5" width="5.4" height="22" rx="2.7" fill="#6f9ae0"/>
<path d="M105,31 L113,20.5 M105,31 L112,41" stroke="#b9c6d6" stroke-width="1.6"/>
<rect x="0" y="44" width="163.5" height="7.6" fill="#0ba89a"/>
<rect x="59.4" y="45.2" width="5.5" height="6" fill="#84cc22"/>
<rect x="63" y="53.8" width="32" height="1.2" fill="#999"/>
<rect x="105" y="53.8" width="8" height="1.2" fill="#777"/>
<rect x="20.7" y="57.2" width="37.8" height="24.7" fill="#10a596"/>
<path d="M31,66 L44,66 L43,77.5 Q37.5,79.5 32,77.5 Z" fill="#f2f2f2"/>
<ellipse cx="37.5" cy="66" rx="6.5" ry="1.5" fill="#333"/>
<path d="M44,68 Q48,68.5 47,73 Q45.5,75.5 43,75" fill="none" stroke="#eee" stroke-width="1.2"/>
<rect x="62" y="57.2" width="37.1" height="24.7" fill="#c2c2c2"/>
<path transform="translate(80.5,0) scale(0.78,1) translate(-80.5,0)" d="M69,81.9 L69,79 Q66,77 67,72 L68.5,66 Q70,62 74,61.5 Q74.5,58.3 80.5,58 Q86.5,58.3 87,61.5 Q91,62 92.5,66 L94,72 Q95,77 92,79 L92,81.9 Z" fill="#2f6fd6"/>
<rect x="102.9" y="57.2" width="37.6" height="24.7" fill="#c2c2c2"/>
<path transform="translate(121.5,0) scale(0.78,1) translate(-121.5,0)" d="M110,81.9 L110,79 Q107,77 108,72 L109.5,66 Q111,62 115,61.5 Q115.5,58.3 121.5,58 Q127.5,58.3 128,61.5 Q132,62 133.5,66 L135,72 Q136,77 133,79 L133,81.9 Z" fill="#2b2b2b"/>
<rect x="24.5" y="84" width="30" height="5.2" fill="#82cc2c"/>
<rect x="65.5" y="84" width="30" height="5.2" fill="#82cc2c"/>
<rect x="106.5" y="84" width="30" height="5.2" fill="#82cc2c"/>
<rect x="26" y="91" width="27" height="1.2" fill="#aaa"/>
<rect x="67" y="91" width="27" height="1.2" fill="#aaa"/>
<rect x="108" y="91" width="27" height="1.2" fill="#aaa"/>
<rect x="34" y="93.8" width="10" height="2" fill="#555"/>
<rect x="75" y="93.8" width="10" height="2" fill="#555"/>
<rect x="116" y="93.8" width="10" height="2" fill="#555"/>
<rect x="20.7" y="99.4" width="37.8" height="6.5" fill="#d8d6d0"/>
<rect x="62" y="99.4" width="37.1" height="6.5" fill="#555"/>
<path d="M72,106 Q74,101 80.5,100.5 Q87,101 89,106 Z" fill="#4a1d5c"/>
<rect x="102.9" y="99.4" width="37.6" height="6.5" fill="#bbb"/>
<path d="M117,106 Q118,101 121.5,100.8 Q125,101 126,106 Z" fill="#4a1d5c"/>
</g>

<text x="65.3" y="35.0" font-size="21.5" font-weight="bold" fill="#3a89b9" textLength="110.7" lengthAdjust="spacingAndGlyphs"  stroke="#3a89b9" stroke-width="0.45">Client apps</text>
<text x="77.6" y="64.7" font-size="17.2" font-weight="bold" fill="#555" textLength="97.7" lengthAdjust="spacingAndGlyphs"  stroke="#555" stroke-width="0.45">Mobile app</text>
<text x="45.6" y="250.8" font-size="17.3" font-weight="bold" fill="#555" textLength="175.4" lengthAdjust="spacingAndGlyphs"  stroke="#555" stroke-width="0.45">Traditional Web app</text>
<text x="101.6" y="380.7" font-size="17.9" font-weight="normal" fill="#666" textLength="44.4" lengthAdjust="spacingAndGlyphs" >HTML</text>
<text x="72.2" y="415.9" font-size="18.0" font-weight="bold" fill="#555" textLength="115.2" lengthAdjust="spacingAndGlyphs"  stroke="#555" stroke-width="0.45">SPA Web app</text>
<text x="54.7" y="557.9" font-size="18.4" font-weight="normal" fill="#666" textLength="159.0" lengthAdjust="spacingAndGlyphs" >TypeScript/Angular 2</text>
<text x="291.6" y="46.9" font-size="19.5" font-weight="bold" fill="#3a89b9" textLength="121.9" lengthAdjust="spacingAndGlyphs"  stroke="#3a89b9" stroke-width="0.45">Docker Host</text>
<text x="311.9" y="299.7" font-size="21.9" font-weight="bold" fill="#555" textLength="85.3" lengthAdjust="spacingAndGlyphs"  stroke="#555" stroke-width="0.45">WebApp</text>
<text x="543.3" y="47.0" font-size="20.0" font-weight="bold" fill="#555" textLength="210.7" lengthAdjust="spacingAndGlyphs"  stroke="#555" stroke-width="0.45">Identity microservice</text>
<text x="759.7" y="47.0" font-size="15.5" font-weight="bold" fill="#555" textLength="87.3" lengthAdjust="spacingAndGlyphs"  stroke="#555" stroke-width="0.45">(STS+users)</text>
<text x="544.0" y="139.7" font-size="20.0" font-weight="bold" fill="#555" textLength="207.8" lengthAdjust="spacingAndGlyphs"  stroke="#555" stroke-width="0.45">Catalog microservice</text>
<text x="543.9" y="230.8" font-size="20.0" font-weight="bold" fill="#555" textLength="221.9" lengthAdjust="spacingAndGlyphs"  stroke="#555" stroke-width="0.45">Ordering microservice</text>
<text x="543.9" y="369.6" font-size="20.0" font-weight="bold" fill="#555" textLength="196.9" lengthAdjust="spacingAndGlyphs"  stroke="#555" stroke-width="0.45">Basket microservice</text>
<text x="544.6" y="462.9" font-size="20.0" font-weight="bold" fill="#555" textLength="234.2" lengthAdjust="spacingAndGlyphs"  stroke="#555" stroke-width="0.45">Marketing microservice</text>
<text x="549.6" y="584.1" font-size="20.0" font-weight="bold" fill="#555" textLength="225.3" lengthAdjust="spacingAndGlyphs"  stroke="#555" stroke-width="0.45">Locations microservice</text>
<text x="743.2" y="72.6" font-size="15.6" font-weight="normal" fill="#707070" textLength="63.3" lengthAdjust="spacingAndGlyphs" >Relational</text>
<text x="743.2" y="92.5" font-size="15.6" font-weight="normal" fill="#707070" textLength="59.4" lengthAdjust="spacingAndGlyphs" >database</text>
<text x="743.2" y="165.2" font-size="15.6" font-weight="normal" fill="#707070" textLength="62.9" lengthAdjust="spacingAndGlyphs" >Relational</text>
<text x="743.2" y="185.5" font-size="15.6" font-weight="normal" fill="#707070" textLength="59.4" lengthAdjust="spacingAndGlyphs" >database</text>
<text x="742.4" y="276.8" font-size="15.6" font-weight="normal" fill="#707070" textLength="62.9" lengthAdjust="spacingAndGlyphs" >Relational</text>
<text x="742.4" y="296.7" font-size="15.6" font-weight="normal" fill="#707070" textLength="59.8" lengthAdjust="spacingAndGlyphs" >database</text>
<text x="744.3" y="404.5" font-size="15.6" font-weight="normal" fill="#707070" textLength="77.1" lengthAdjust="spacingAndGlyphs" >Redis cache</text>
<text x="745.5" y="496.4" font-size="15.6" font-weight="normal" fill="#707070" textLength="46.1" lengthAdjust="spacingAndGlyphs" >NoSQL</text>
<text x="745.5" y="516.3" font-size="15.6" font-weight="normal" fill="#707070" textLength="61.0" lengthAdjust="spacingAndGlyphs" >Database</text>
<text x="745.5" y="607.6" font-size="15.6" font-weight="normal" fill="#707070" textLength="46.5" lengthAdjust="spacingAndGlyphs" >NoSQL</text>
<text x="745.5" y="627.5" font-size="15.6" font-weight="normal" fill="#707070" textLength="61.0" lengthAdjust="spacingAndGlyphs" >Database</text>
<text x="560.5" y="284.1" font-size="13.1" font-weight="normal" fill="#606060" textLength="77.3" lengthAdjust="spacingAndGlyphs" >Ordering.API</text>
<text x="562.0" y="334.8" font-size="14.0" font-weight="normal" fill="#606060" textLength="145.3" lengthAdjust="spacingAndGlyphs" >GracePeriod worker svc.</text>
<text transform="translate(459.6,278.2) rotate(90)" font-size="19.6" font-weight="bold" fill="#fff" textLength="112.3" lengthAdjust="spacingAndGlyphs">API Gateway</text>
<text transform="translate(963,242.3) rotate(90)" font-size="23" font-weight="bold" fill="#444" textLength="108.5" lengthAdjust="spacingAndGlyphs" stroke="#444" stroke-width="0.4">Event Bus</text>
<text transform="translate(937.4,172.2) rotate(90)" font-size="19.5" font-weight="normal" fill="#848484" stroke="#d4d4d4" stroke-width="0.3" textLength="248" lengthAdjust="spacingAndGlyphs">(Publish/Subscribe Channel)</text>
</svg>
</body></html>
